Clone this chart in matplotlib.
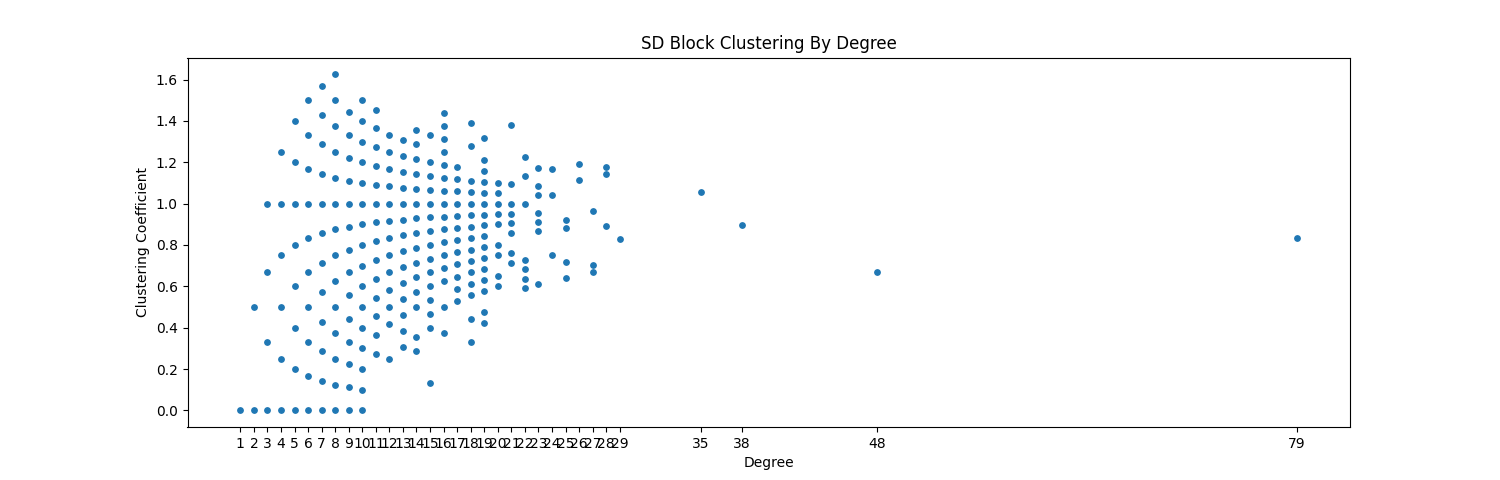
import numpy as np
import matplotlib
matplotlib.use('Agg')
import matplotlib.pyplot as plt

# Clustering coefficient values per node degree
#--------------------------------------------------------------------
degrees = [1, 2, 3, 4, 5, 6, 7, 8, 9, 10, 11, 12, 13, 14, 15, 16, 17, 18, 19, 20,
           21, 22, 23, 24, 25, 26, 27, 28, 29, 35, 38, 48, 79]

clustering = [
    [0.0],
    [0.5, 0.0],
    [1.0, 0.667, 0.333, 0.0],
    [1.25, 1.0, 0.75, 0.5, 0.25, 0.0],
    [1.4, 1.2, 1.0, 0.8, 0.6, 0.4, 0.2, 0.0],
    [1.5, 1.333, 1.167, 1.0, 0.833, 0.667, 0.5, 0.333, 0.167, 0.0],
    [1.571, 1.429, 1.286, 1.143, 1.0, 0.857, 0.714, 0.571, 0.429, 0.286, 0.143, 0.0],
    [1.625, 1.5, 1.375, 1.25, 1.125, 1.0, 0.875, 0.75, 0.625, 0.5, 0.375, 0.25, 0.125, 0.0],
    [1.444, 1.333, 1.222, 1.111, 1.0, 0.889, 0.778, 0.667, 0.556, 0.444, 0.333, 0.222, 0.111, 0.0],
    [1.5, 1.4, 1.3, 1.2, 1.1, 1.0, 0.9, 0.8, 0.7, 0.6, 0.5, 0.4, 0.3, 0.2, 0.1, 0.0],
    [1.455, 1.364, 1.273, 1.182, 1.091, 1.0, 0.909, 0.818, 0.727, 0.636, 0.545, 0.455, 0.364, 0.273],
    [1.333, 1.25, 1.167, 1.083, 1.0, 0.917, 0.833, 0.75, 0.667, 0.583, 0.5, 0.417, 0.25],
    [1.308, 1.231, 1.154, 1.077, 1.0, 0.923, 0.846, 0.769, 0.692, 0.615, 0.538, 0.462, 0.385, 0.308],
    [1.357, 1.286, 1.214, 1.143, 1.071, 1.0, 0.929, 0.857, 0.786, 0.714, 0.643, 0.571, 0.5, 0.357, 0.286],
    [1.333, 1.2, 1.133, 1.067, 1.0, 0.933, 0.867, 0.8, 0.733, 0.667, 0.6, 0.533, 0.467, 0.4, 0.133],
    [1.4375, 1.375, 1.3125, 1.25, 1.1875, 1.125, 1.0625, 1.0, 0.9375, 0.875, 0.8125, 0.75,
     0.6875, 0.625, 0.5, 0.375],
    [1.176, 1.118, 1.059, 1.0, 0.941, 0.882, 0.824, 0.765, 0.706, 0.647, 0.588, 0.529],
    [1.389, 1.278, 1.111, 1.056, 1.0, 0.944, 0.889, 0.833, 0.778, 0.722, 0.667, 0.611, 0.556,
     0.444, 0.333],
    [1.316, 1.211, 1.158, 1.105, 1.053, 1.0, 0.947, 0.895, 0.842, 0.789, 0.737, 0.684, 0.632,
     0.579, 0.474, 0.421],
    [1.1, 1.05, 1.0, 0.95, 0.9, 0.8, 0.75, 0.65, 0.6],
    [1.381, 1.095, 1.0, 0.952, 0.905, 0.857, 0.762, 0.714],
    [1.227, 1.136, 1.0, 0.727, 0.682, 0.636, 0.591],
    [1.174, 1.087, 1.043, 0.957, 0.913, 0.87, 0.609],
    [1.167, 1.042, 0.75],
    [0.92, 0.88, 0.72, 0.64],
    [1.192, 1.115],
    [0.963, 0.704, 0.667],
    [1.179, 1.143, 0.893],
    [0.828],
    [1.057],
    [0.895],
    [0.667],
    [0.835],
]

# Flatten into x / y
#--------------------------------------------------------------------
x = []
y = []
for d, vals in zip(degrees, clustering):
    for v in vals:
        x.append(d)
        y.append(v)
x = np.array(x)
y = np.array(y)

# Visualization
#--------------------------------------------------------------------
fig = plt.figure(figsize=(15, 4.8), dpi=100)
plt.scatter(x, y, s=15)
plt.xticks(degrees)
plt.title("SD Block Clustering By Degree")
plt.xlabel("Degree")
plt.ylabel("Clustering Coefficient")
plt.savefig("out.png")
